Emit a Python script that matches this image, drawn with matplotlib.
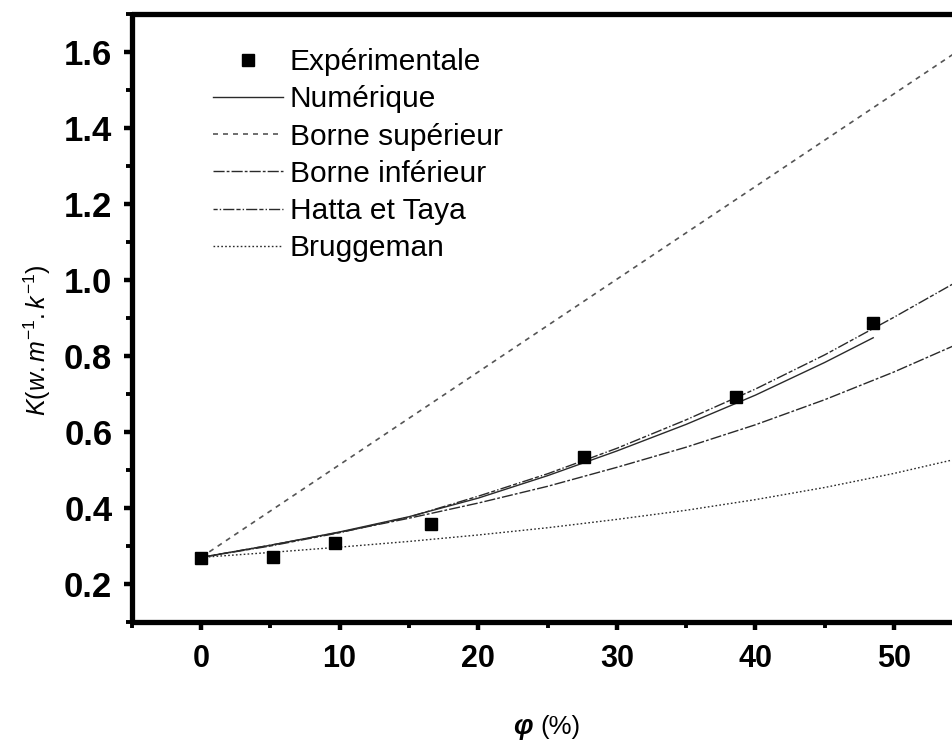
import matplotlib
matplotlib.use("Agg")
import matplotlib.pyplot as plt
from matplotlib.ticker import MultipleLocator

plt.rcParams['font.family'] = ['Liberation Sans', 'DejaVu Sans']
plt.rcParams['mathtext.fontset'] = 'custom'
plt.rcParams['mathtext.it'] = 'Liberation Sans:italic'
plt.rcParams['mathtext.rm'] = 'Liberation Sans'

# Experimental points
exp_x = [0, 5.2, 9.7, 16.6, 27.6, 38.6, 48.5]
exp_y = [0.268, 0.270, 0.307, 0.358, 0.534, 0.692, 0.887]

# Model curves
num_x = [0, 5, 10, 15, 20, 25, 30, 35, 40, 45, 48.5]
num_y = [0.270, 0.302, 0.337, 0.377, 0.426, 0.485, 0.550, 0.620, 0.697, 0.783, 0.848]

grid_x = [0, 5, 10, 15, 20, 25, 30, 35, 40, 45, 50, 55]
sup_y = [0.270, 0.392, 0.514, 0.636, 0.758, 0.880, 1.002, 1.124, 1.246, 1.368, 1.490, 1.612]
inf_y = [0.270, 0.302, 0.336, 0.373, 0.413, 0.457, 0.507, 0.560, 0.619, 0.685, 0.758, 0.838]
hatta_y = [0.270, 0.300, 0.335, 0.376, 0.431, 0.490, 0.557, 0.632, 0.713, 0.803, 0.902, 1.005]
brug_y = [0.270, 0.283, 0.297, 0.312, 0.329, 0.348, 0.370, 0.394, 0.422, 0.454, 0.491, 0.533]

xticks = [0, 10, 20, 30, 40, 50]
yticks = [0.2, 0.4, 0.6, 0.8, 1.0, 1.2, 1.4, 1.6]

W, H = 953, 746
fig = plt.figure(figsize=(W / 100, H / 100), dpi=100)
left = 131.7 / W
bottom = 1 - 622 / H
top = 1 - 14 / H
px_per_x = 13.86
xmax = 60
width = (xmax + 5) * px_per_x / W
ax = fig.add_axes([left, bottom, width, top - bottom])

lc = '#2a2a2a'
ax.plot(num_x, num_y, color=lc, lw=1.0, ls='-', label='Numérique', zorder=3)
ax.plot(grid_x, sup_y, color='#555555', lw=1.2, dashes=(3, 3), label='Borne supérieur', zorder=3)
ax.plot(grid_x, inf_y, color=lc, lw=1.0, dashes=(8, 1.5, 2, 1.5), label='Borne inférieur', zorder=3)
ax.plot(grid_x, hatta_y, color=lc, lw=1.0, dashes=(3, 1.5, 1, 1.5, 8, 1.5), label='Hatta et Taya', zorder=3)
ax.plot(grid_x, brug_y, color=lc, lw=1.0, dashes=(1.2, 1.6), label='Bruggeman', zorder=3)
ax.plot(exp_x, exp_y, ls='none', marker='s', ms=9, color='black', label='Expérimentale', zorder=4)

ax.set_xlim(-5, xmax)
ax.set_ylim(0.1, 1.7)
ax.set_xticks(xticks)
ax.set_yticks(yticks)
ax.set_yticklabels([f'{v:.1f}' for v in yticks])
ax.xaxis.set_minor_locator(MultipleLocator(5))
ax.yaxis.set_minor_locator(MultipleLocator(0.1))

for s in ax.spines.values():
    s.set_linewidth(3.8)
    s.set_capstyle('round')
ax.tick_params(which='major', direction='out', length=6, width=3.2, top=False, right=False)
ax.tick_params(axis='y', which='major', labelsize=25, pad=8)
ax.tick_params(axis='x', which='major', labelsize=22, pad=10)
ax.tick_params(which='minor', direction='out', length=4, width=2.8, top=False, right=False)
for lab in ax.get_xticklabels() + ax.get_yticklabels():
    lab.set_fontweight('bold')

handles, labels = ax.get_legend_handles_labels()
order = [5, 0, 1, 2, 3, 4]
leg = ax.legend([handles[i] for i in order], [labels[i] for i in order],
                loc='upper left', bbox_to_anchor=(213 / W, 1 - 48 / H),
                bbox_transform=fig.transFigure, frameon=False, fontsize=21.5,
                handlelength=2.34, handletextpad=0.23, labelspacing=0.31,
                borderpad=0, borderaxespad=0, numpoints=1)

fig.text(37 / W, 1 - 340 / H, r'$K(w.m^{-1}.k^{-1})$', rotation=90,
         ha='center', va='center', fontsize=18)
fig.text(533 / W, 1 - 727 / H, 'φ', fontsize=20, fontweight='bold', style='italic',
         ha='right', va='center')
fig.text(540 / W, 1 - 727 / H, '(%)', fontsize=18.5, ha='left', va='center')

fig.savefig('out.png', dpi=100)
